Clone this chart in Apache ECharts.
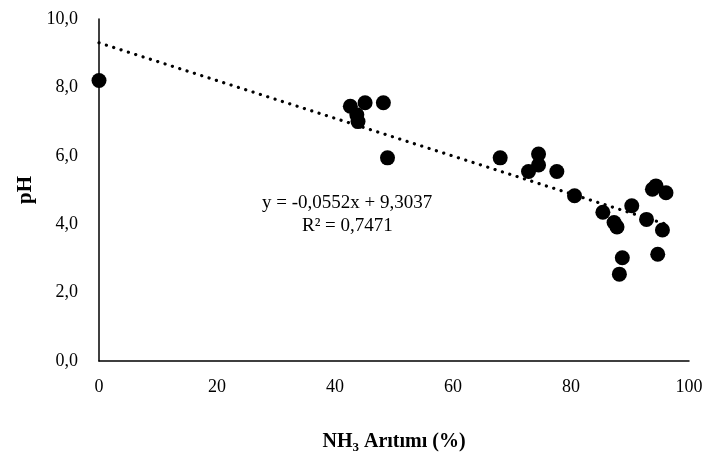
<!DOCTYPE html>
<html>
<head>
<meta charset="utf-8">
<script src="https://cdn.jsdelivr.net/npm/echarts@6/dist/echarts.min.js"></script>
<style>html,body{margin:0;padding:0;background:#fff}#c{width:709px;height:461px}</style>
</head>
<body>
<div id="c"></div>
<script>
// NH3 removal (%) vs pH
const xValues = [0, 42.6, 45.1, 48.2, 43.7, 43.9, 48.9, 68.0, 74.5, 74.5, 72.8, 77.6, 80.6, 85.4, 87.3, 87.8, 90.3, 92.8, 94.4, 93.8, 96.1, 95.5, 88.7, 88.2, 94.7];
const yValues = [8.2, 7.45, 7.55, 7.55, 7.2, 7.0, 5.94, 5.94, 6.05, 5.73, 5.54, 5.54, 4.83, 4.35, 4.05, 3.92, 4.54, 4.14, 5.12, 5.02, 4.92, 3.83, 3.02, 2.54, 3.12];
const trendSlope = -0.0552;
const trendIntercept = 9.3037;
const trendRange = [0, 96.1];
const eqLabel = 'y = -0,0552x + 9,3037';
const r2Label = 'R² = 0,7471';
const fmt = v => v.toFixed(1).replace('.', ',');

const points = xValues.map((x, i) => [x, yValues[i]]);
const trend = trendRange.map(x => [x, trendSlope * x + trendIntercept]);

const chart = echarts.init(document.getElementById('c'));
const font = 'Liberation Serif, Times New Roman, serif';
chart.setOption({
  animation: false,
  backgroundColor: '#fff',
  grid: { left: 99, right: 20, top: 19, bottom: 100 },
  xAxis: {
    type: 'value', min: 0, max: 100, interval: 20,
    axisLine: { show: true, lineStyle: { color: '#000', width: 1.5 } },
    axisTick: { show: false },
    splitLine: { show: false },
    axisLabel: { color: '#000', fontFamily: font, fontSize: 18, margin: 17 },
    name: '{b|NH}{s|3}{b| Arıtımı (%)}',
    nameLocation: 'middle', nameGap: 68,
    nameTextStyle: {
      rich: {
        b: { fontFamily: font, fontWeight: 'bold', fontSize: 20, color: '#000' },
        s: { fontFamily: font, fontWeight: 'bold', fontSize: 13, color: '#000', verticalAlign: 'bottom', padding: [12, 0, 0, 0] }
      }
    }
  },
  yAxis: {
    type: 'value', min: 0, max: 10, interval: 2,
    axisLine: { show: true, lineStyle: { color: '#000', width: 1.5 } },
    axisTick: { show: false },
    splitLine: { show: false },
    axisLabel: { color: '#000', fontFamily: font, fontSize: 18, margin: 21, formatter: fmt },
    name: 'pH', nameLocation: 'middle', nameGap: 62, nameRotate: 90,
    nameTextStyle: { fontFamily: font, fontWeight: 'bold', fontSize: 21, color: '#000' }
  },
  series: [
    {
      type: 'line', data: trend, symbol: 'none', silent: true,
      lineStyle: { color: '#000', width: 3.2, type: [0.1, 7.6], cap: 'round' },
      z: 1
    },
    {
      type: 'scatter', data: points, symbol: 'circle', symbolSize: 15,
      itemStyle: { color: '#000', opacity: 1 }, z: 2
    }
  ],
  graphic: [
    { type: 'text', left: 262, top: 194, style: { text: eqLabel, font: '19px ' + font, fill: '#000' } },
    { type: 'text', left: 302, top: 217, style: { text: r2Label, font: '19px ' + font, fill: '#000' } }
  ]
});
</script>
</body>
</html>
